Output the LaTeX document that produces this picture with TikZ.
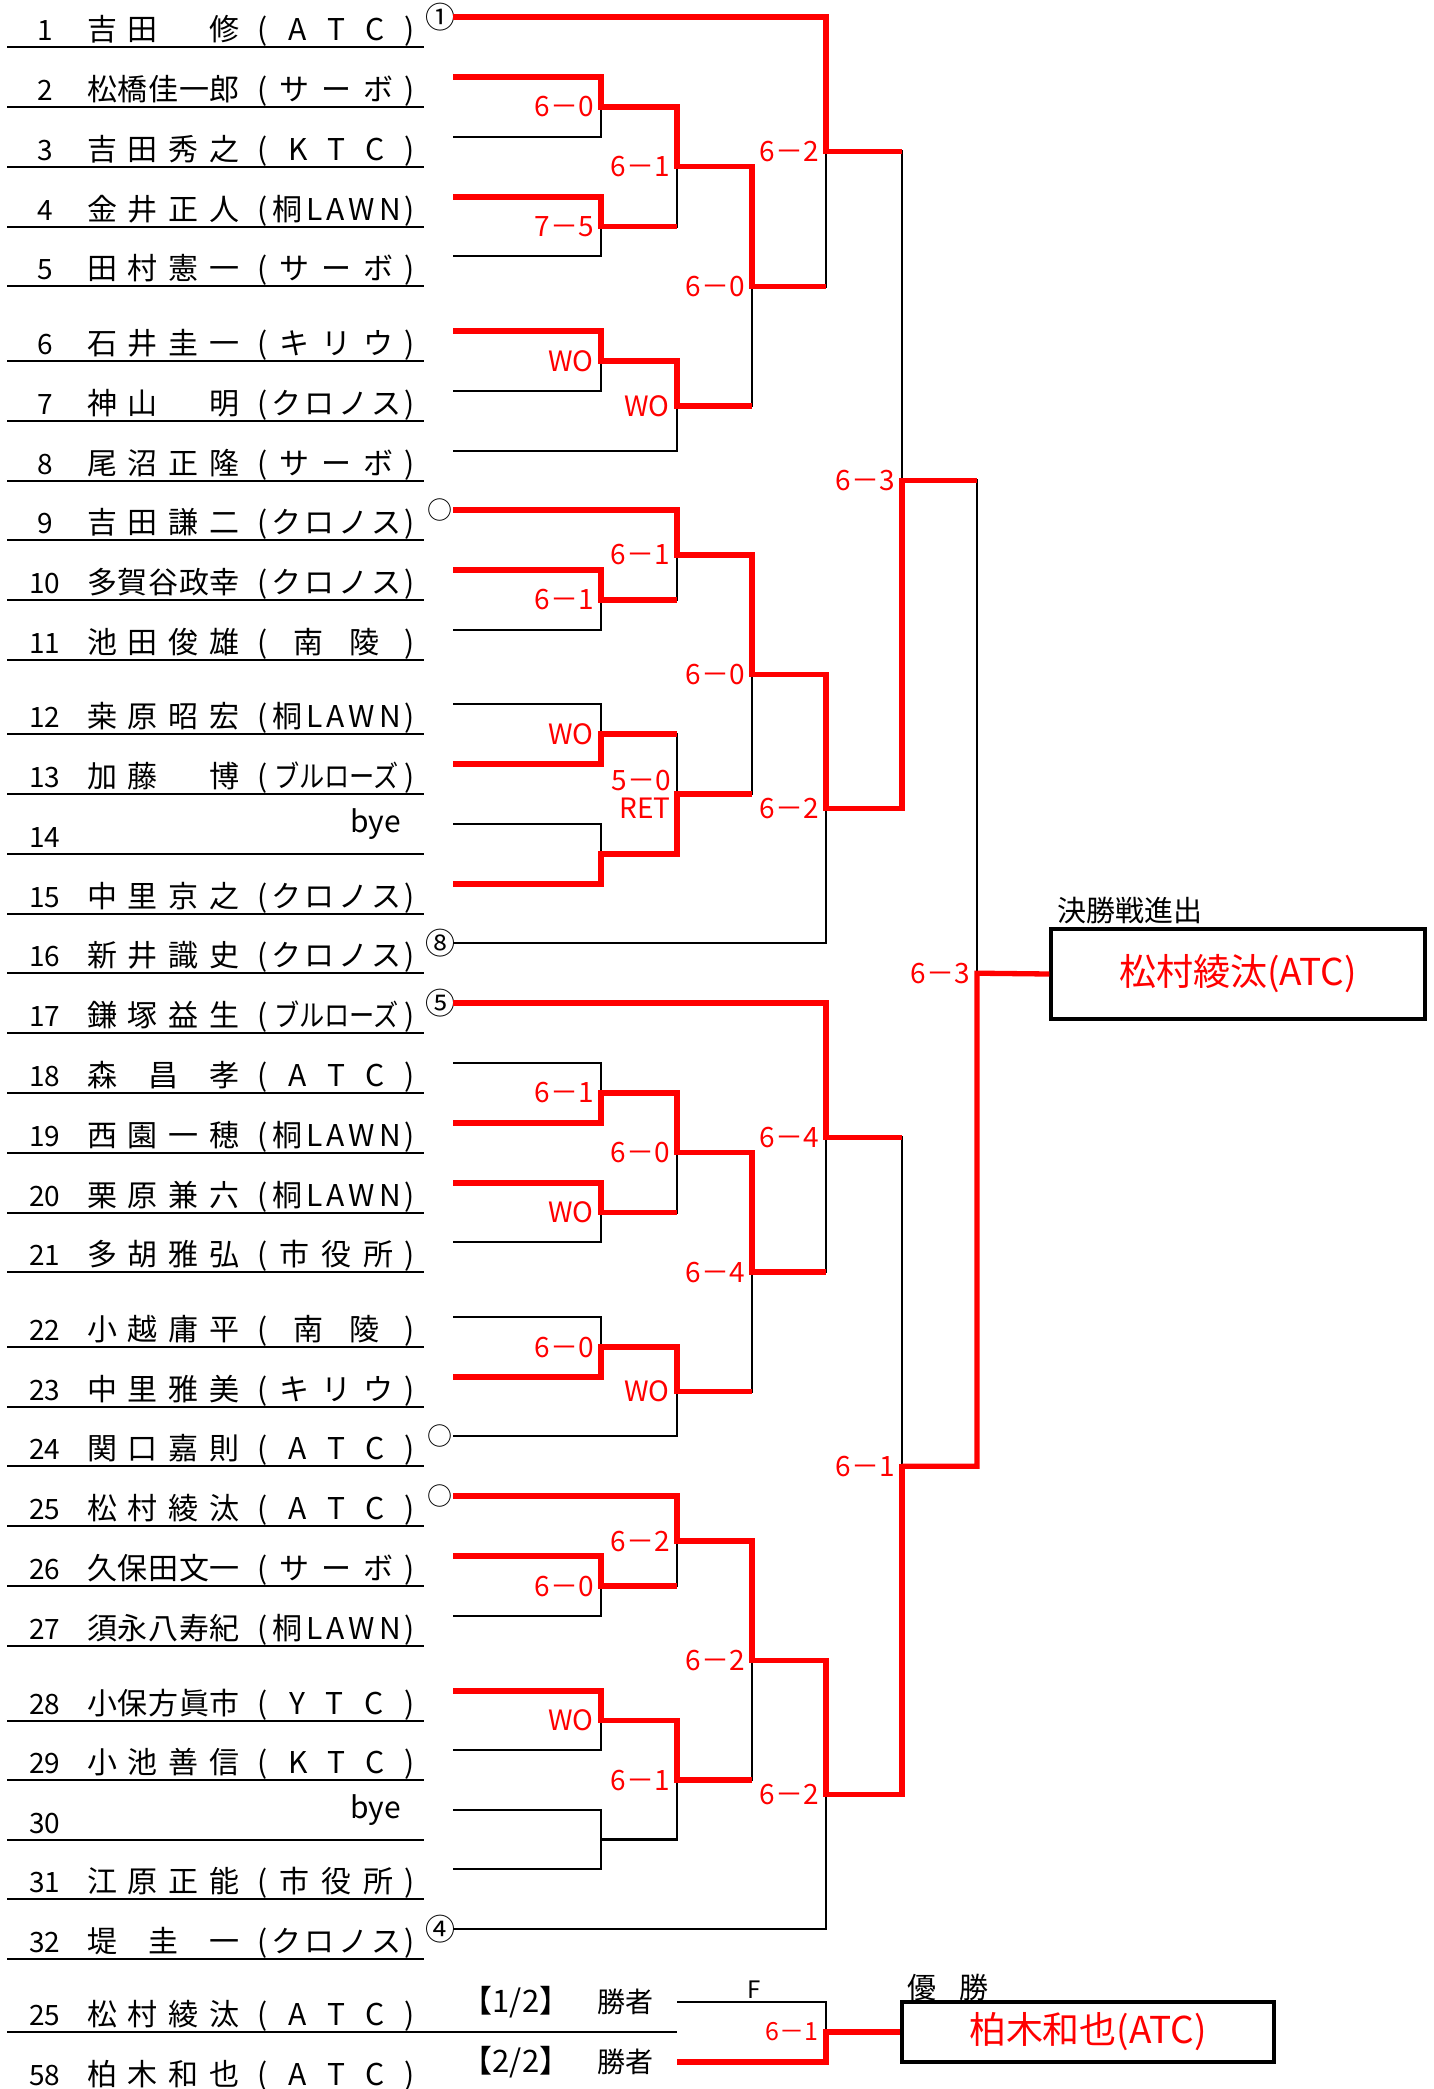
\documentclass[tikz,border=0pt]{standalone}
\usepackage{fontspec}
\usepackage{graphicx}
\setmainfont{Noto Sans CJK JP}
\usetikzlibrary{calc}
\definecolor{brred}{RGB}{255,0,0}
\newcommand\fname{\fontsize{15}{17}\selectfont}
\newcommand\fnum{\fontsize{14}{16}\selectfont}
\newcommand\fscore{\fontsize{14}{16}\selectfont}
\newcommand\fbig{\fontsize{18.5}{21}\selectfont}
\newcommand\fmk{\fontsize{15}{17}\selectfont}
\newcommand\fmkc{\fontsize{12.5}{14}\selectfont}
\newcommand\fsmall{\fontsize{12}{14}\selectfont}
\def\spr#1{\sprloop#1\sprend}
\def\sprloop#1#2\sprend{#1\if\relax\detokenize{#2}\relax\else\hfill\sprloop#2\sprend\fi}
\newcommand\prow[3]{\hbox{\hbox to 23pt{\hss\fnum #1\hss}\hspace{9.5pt}\hbox to 76.5pt{\fname\spr{#2}}\hspace{9pt}\hbox to 78.5pt{\fname\spr{#3}}}}
\newcommand\numonly[1]{\hbox{\hbox to 23pt{\hss\fnum #1\hss}}}
\newcommand\mtch[4]{%
  \coordinate (#1t) at (#2 -| #4);
  \coordinate (#1b) at (#3 -| #4);
  \coordinate (#1o) at ($(#1t)!0.5!(#1b)$);}
\begin{document}
\begin{tikzpicture}[x=0.5pt,y=-0.5pt,line join=miter,
  blk/.style={draw=black,line width=1.35pt},
  win/.style={draw=brred,line width=2.65pt},
  ul/.style={draw=black,line width=0.75pt},
  rowlab/.style={anchor=base west,inner sep=0pt,outer sep=0pt},
  score/.style={anchor=east,inner sep=0pt,font=\fscore,text=brred},
  mk/.style={inner sep=0pt,font=\fmk},
  mkc/.style={inner sep=0pt,font=\fmkc},
  lbl/.style={inner sep=0pt,font=\fname},
  boxn/.style={draw=black,line width=1.6pt,inner sep=0pt,font=\fbig,text=brred}]
\fill[white] (0,0) rectangle (1434,2089);
\useasboundingbox (0,0) rectangle (1434,2089);

% ---------- name underlines ----------
\foreach \yy in {17,77,137,197,256,331,391,451,510,570,630,704,764,824,884,943,1003,1063,1123,1183,1242,1317,1377,1436,1496,1556,1616,1691,1750,1810,1869,1929}
  \draw[ul] (7,\yy+30) -- (424,\yy+30);
\draw[ul] (7,2032) -- (677,2032);

% ---------- rows ----------
\node[rowlab] (r1) at (22,40) {\prow{1}{吉田　修}{(ATC)}};
\node[rowlab] (r2) at (22,100) {\prow{2}{松橋佳一郎}{(サーボ)}};
\node[rowlab] (r3) at (22,160) {\prow{3}{吉田秀之}{(KTC)}};
\node[rowlab] (r4) at (22,220) {\prow{4}{金井正人}{(桐LAWN)}};
\node[rowlab] (r5) at (22,279) {\prow{5}{田村憲一}{(サーボ)}};
\node[rowlab] (r6) at (22,354) {\prow{6}{石井圭一}{(キリウ)}};
\node[rowlab] (r7) at (22,414) {\prow{7}{神山　明}{(クロノス)}};
\node[rowlab] (r8) at (22,474) {\prow{8}{尾沼正隆}{(サーボ)}};
\node[rowlab] (r9) at (22,533) {\prow{9}{吉田謙二}{(クロノス)}};
\node[rowlab] (r10) at (22,593) {\prow{10}{多賀谷政幸}{(クロノス)}};
\node[rowlab] (r11) at (22,653) {\prow{11}{池田俊雄}{(南陵)}};
\node[rowlab] (r12) at (22,727) {\prow{12}{桒原昭宏}{(桐LAWN)}};
\node[rowlab] (r13) at (22,787) {\prow{13}{加藤　博}{({\scalebox{0.84}[1]{ブルローズ}})}};
\node[rowlab] (r14) at (22,847) {\numonly{14}};
\node[anchor=base east,inner sep=0pt,font=\fname] (bye14) at (401,832) {bye};
\node[rowlab] (r15) at (22,907) {\prow{15}{中里京之}{(クロノス)}};
\node[rowlab] (r16) at (22,966) {\prow{16}{新井識史}{(クロノス)}};
\node[rowlab] (r17) at (22,1026) {\prow{17}{鎌塚益生}{({\scalebox{0.84}[1]{ブルローズ}})}};
\node[rowlab] (r18) at (22,1086) {\prow{18}{森昌孝}{(ATC)}};
\node[rowlab] (r19) at (22,1146) {\prow{19}{西園一穂}{(桐LAWN)}};
\node[rowlab] (r20) at (22,1206) {\prow{20}{栗原兼六}{(桐LAWN)}};
\node[rowlab] (r21) at (22,1265) {\prow{21}{多胡雅弘}{(市役所)}};
\node[rowlab] (r22) at (22,1340) {\prow{22}{小越庸平}{(南陵)}};
\node[rowlab] (r23) at (22,1400) {\prow{23}{中里雅美}{(キリウ)}};
\node[rowlab] (r24) at (22,1459) {\prow{24}{関口嘉則}{(ATC)}};
\node[rowlab] (r25) at (22,1519) {\prow{25}{松村綾汰}{(ATC)}};
\node[rowlab] (r26) at (22,1579) {\prow{26}{久保田文一}{(サーボ)}};
\node[rowlab] (r27) at (22,1639) {\prow{27}{須永八寿紀}{(桐LAWN)}};
\node[rowlab] (r28) at (22,1714) {\prow{28}{小保方眞市}{(YTC)}};
\node[rowlab] (r29) at (22,1773) {\prow{29}{小池善信}{(KTC)}};
\node[rowlab] (r30) at (22,1833) {\numonly{30}};
\node[anchor=base east,inner sep=0pt,font=\fname] (bye30) at (401,1818) {bye};
\node[rowlab] (r31) at (22,1892) {\prow{31}{江原正能}{(市役所)}};
\node[rowlab] (r32) at (22,1952) {\prow{32}{堤圭一}{(クロノス)}};
\node[rowlab] (rf1) at (22,2025) {\prow{25}{松村綾汰}{(ATC)}};
\node[rowlab] (rf2) at (22,2085) {\prow{58}{柏木和也}{(ATC)}};

% ---------- seed marks ----------
\node[mk] (s1) at (440,17) {①};
\node[mkc] (s9) at (440,510) {○};
\node[mk] (s16) at (440,943) {⑧};
\node[mk] (s17) at (440,1003) {⑤};
\node[mkc] (s24) at (440,1436) {○};
\node[mkc] (s25) at (440,1496) {○};
\node[mk] (s32) at (440,1929) {④};

% ---------- bracket coordinates ----------
\foreach \i/\yy in {1/17,2/77,3/137,4/197,5/256,6/331,7/391,8/451,9/510,10/570,11/630,12/704,13/764,14/824,15/884,16/943,17/1003,18/1063,19/1123,20/1183,21/1242,22/1317,23/1377,24/1436,25/1496,26/1556,27/1616,28/1691,29/1750,30/1810,31/1869,32/1929}
  \coordinate (p\i) at (453,\yy);
\coordinate (q1) at (677,2002);
\coordinate (q2) at (677,2062);
\coordinate (x1) at (601,0);
\coordinate (x2) at (677,0);
\coordinate (x3) at (752,0);
\coordinate (x4) at (826,0);
\coordinate (x5) at (902,0);
\coordinate (x6) at (977,0);

\mtch{a1}{p2}{p3}{x1}
\mtch{a2}{p4}{p5}{x1}
\mtch{a3}{p6}{p7}{x1}
\mtch{a4}{p10}{p11}{x1}
\mtch{a5}{p12}{p13}{x1}
\mtch{a6}{p14}{p15}{x1}
\mtch{a7}{p18}{p19}{x1}
\mtch{a8}{p20}{p21}{x1}
\mtch{a9}{p22}{p23}{x1}
\mtch{a10}{p26}{p27}{x1}
\mtch{a11}{p28}{p29}{x1}
\mtch{a12}{p30}{p31}{x1}
\mtch{b1}{a1o}{a2o}{x2}
\mtch{b2}{a3o}{p8}{x2}
\mtch{b3}{p9}{a4o}{x2}
\mtch{b4}{a5o}{a6o}{x2}
\mtch{b5}{a7o}{a8o}{x2}
\mtch{b6}{a9o}{p24}{x2}
\mtch{b7}{p25}{a10o}{x2}
\mtch{b8}{a11o}{a12o}{x2}
\mtch{c1}{b1o}{b2o}{x3}
\mtch{c2}{b3o}{b4o}{x3}
\mtch{c3}{b5o}{b6o}{x3}
\mtch{c4}{b7o}{b8o}{x3}
\mtch{d1}{p1}{c1o}{x4}
\mtch{d2}{c2o}{p16}{x4}
\mtch{d3}{p17}{c3o}{x4}
\mtch{d4}{c4o}{p32}{x4}
\mtch{e1}{d1o}{d2o}{x5}
\mtch{e2}{d3o}{d4o}{x5}
\mtch{f1}{e1o}{e2o}{x6}
\mtch{g1}{q1}{q2}{x4}

% ---------- boxes and captions ----------
\node[boxn,minimum width=187pt,minimum height=45pt] (fbox) at (1238,974) {松村綾汰(ATC)};
\node[boxn,minimum width=186pt,minimum height=30pt] (cbox) at (1088,2032) {柏木和也(ATC)};
\node[lbl,anchor=base west,font=\fontsize{14.5}{16}\selectfont] (qlab) at (1057,921) {決勝戦進出};
\node[lbl,anchor=base west,font=\fontsize{14.5}{16}\selectfont] (ylab) at (907,1998) {優\hspace{11.5pt}勝};
\node[inner sep=0pt,font=\fsmall] (flab) at (754,1990) {F};
\node[lbl,font=\fontsize{15.5}{17}\selectfont] (w1) at (516,2002) {【1/2】};
\node[lbl,font=\fontsize{14}{16}\selectfont] (w1b) at (625,2002) {勝者};
\node[lbl,font=\fontsize{15.5}{17}\selectfont] (w2) at (516,2062) {【2/2】};
\node[lbl,font=\fontsize{14}{16}\selectfont] (w2b) at (625,2062) {勝者};

% ---------- black bracket ----------
\foreach \m/\s/\e in {a1/p2/p3,a2/p4/p5,a3/p6/p7,a4/p10/p11,a5/p12/p13,a6/p14/p15,a7/p18/p19,a8/p20/p21,a9/p22/p23,a10/p26/p27,a11/p28/p29,a12/p30/p31,
  b1/a1o/a2o,b2/a3o/p8,b3/p9/a4o,b4/a5o/a6o,b5/a7o/a8o,b6/a9o/p24,b7/p25/a10o,b8/a11o/a12o,
  c1/b1o/b2o,c2/b3o/b4o,c3/b5o/b6o,c4/b7o/b8o,
  d1/p1/c1o,d2/c2o/p16,d3/p17/c3o,d4/c4o/p32,
  e1/d1o/d2o,e2/d3o/d4o,f1/e1o/e2o,g1/q1/q2}
  \draw[blk] (\s) -- (\m t) -- (\m b) -- (\e);

% ---------- winners (red) ----------
\foreach \s/\m/\w/\n in {p2/a1/t/b1t,p4/a2/t/b1b,p6/a3/t/b2t,p10/a4/t/b3b,p13/a5/b/b4t,p15/a6/b/b4b,
  p19/a7/b/b5t,p20/a8/t/b5b,p23/a9/b/b6t,p26/a10/t/b7b,p28/a11/t/b8t,
  a1o/b1/t/c1t,a3o/b2/t/c1b,p9/b3/t/c2t,a6o/b4/b/c2b,a7o/b5/t/c3t,a9o/b6/t/c3b,p25/b7/t/c4t,a11o/b8/t/c4b,
  b1o/c1/t/d1b,b3o/c2/t/d2t,b5o/c3/t/d3b,b7o/c4/t/d4t,
  p1/d1/t/e1t,c2o/d2/t/e1b,p17/d3/t/e2t,c4o/d4/t/e2b,
  d2o/e1/b/f1t,d4o/e2/b/f1b,
  e2o/f1/b/fbox.west,q2/g1/b/cbox.west}
  \draw[win] (\s) -- (\m\w) -- (\m o) -- (\n);

% ---------- scores ----------
\foreach \m/\sc in {a1/6－0,a2/7－5,a3/WO,a4/6－1,a5/WO,a7/6－1,a8/WO,a9/6－0,a10/6－0,a11/WO,
  b1/6－1,b2/WO,b3/6－1,b5/6－0,b6/WO,b7/6－2,b8/6－1,
  c1/6－0,c2/6－0,c3/6－4,c4/6－2,
  d1/6－2,d2/6－2,d3/6－4,d4/6－2,
  e1/6－3,e2/6－1,f1/6－3}
  \node[score] (l\m) at ([xshift=-3.5pt]\m o) {\sc};
\node[score] (lb4a) at ([xshift=-3pt,yshift=6.5pt]b4o) {5－0};
\node[score] (lb4b) at ([xshift=-3pt,yshift=-7pt]b4o) {RET};
\node[score,font=\fontsize{12.5}{14}\selectfont] (lg1) at ([xshift=-3.5pt]g1o) {6－1};
\end{tikzpicture}
\end{document}
